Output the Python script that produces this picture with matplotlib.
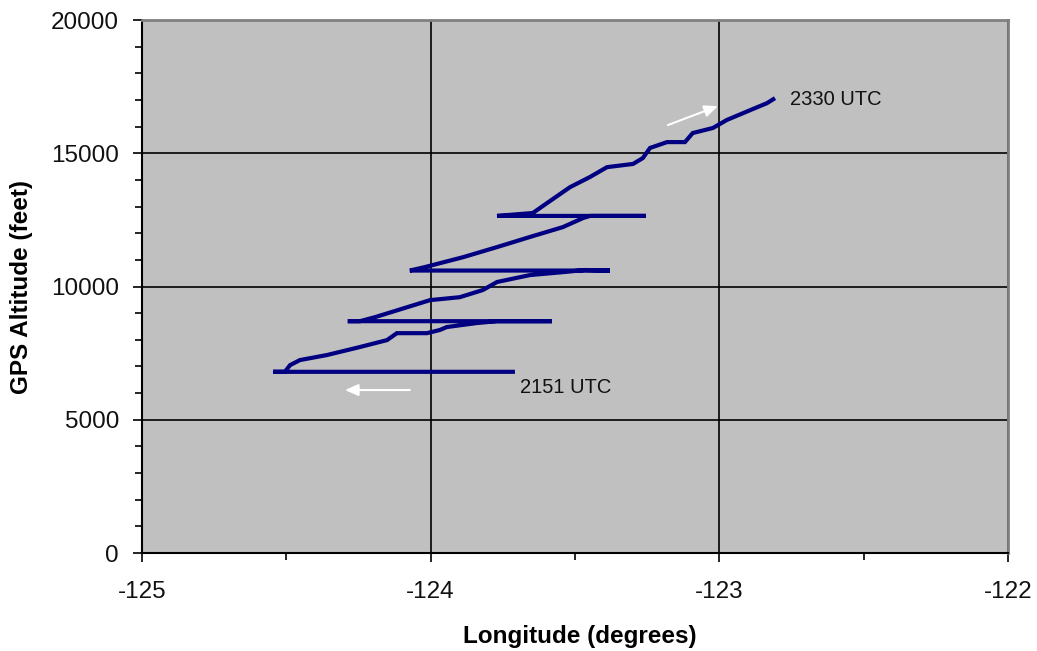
import matplotlib
matplotlib.use("Agg")
import matplotlib.pyplot as plt
from matplotlib.ticker import MultipleLocator

plt.rcParams['font.family'] = ['Liberation Sans', 'DejaVu Sans']

# Flight track: longitude (degrees) and GPS altitude (feet), in time order
longitude = [-123.708, -124.546, -124.505, -124.487, -124.453, -124.359, -124.245,
             -124.151, -124.117, -124.013, -123.968, -123.944, -123.840, -123.770,
             -123.580, -124.287, -124.245, -124.193, -124.002, -123.899, -123.819,
             -123.770, -123.656, -123.542, -123.466, -123.379, -124.072, -124.020,
             -123.888, -123.770, -123.656, -123.542, -123.472, -123.448, -123.254,
             -123.770, -123.646, -123.597, -123.517, -123.448, -123.389, -123.299,
             -123.265, -123.240, -123.181, -123.119, -123.092, -123.022, -122.974,
             -122.884, -122.835, -122.807]
altitude = [6800, 6800, 6800, 7050, 7240, 7430, 7730,
            7990, 8250, 8250, 8370, 8480, 8630, 8700,
            8700, 8700, 8700, 8850, 9490, 9600, 9870,
            10170, 10430, 10540, 10620, 10600, 10600, 10730,
            11100, 11480, 11860, 12230, 12570, 12650, 12650,
            12650, 12760, 13130, 13730, 14110, 14480, 14600,
            14820, 15200, 15420, 15420, 15760, 15950, 16250,
            16660, 16880, 17070]

x_ticks = [-125, -124, -123, -122]
y_ticks = [0, 5000, 10000, 15000, 20000]

start_label = "2151 UTC"
end_label = "2330 UTC"

fig = plt.figure(figsize=(10.37, 6.51), dpi=100)
ax = fig.add_axes([0.1369, 0.1505, 0.8351, 0.8187])
ax.set_facecolor('#c0c0c0')

ax.plot(longitude, altitude, color='#000080', lw=3.0, solid_capstyle='butt',
        solid_joinstyle='miter', zorder=3)

ax.set_xlim(-125, -122)
ax.set_ylim(0, 20000)
ax.set_xticks(x_ticks)
ax.set_yticks(y_ticks)
ax.set_xticklabels([str(v) for v in x_ticks])
ax.set_yticklabels([str(v) for v in y_ticks])
ax.xaxis.set_minor_locator(MultipleLocator(0.5))
ax.yaxis.set_minor_locator(MultipleLocator(1000))
ax.grid(True, which='major', color='black', lw=1.2, zorder=1)
ax.set_axisbelow(True)

ax.tick_params(which='major', direction='out', length=6.5, width=1.2, color='black',
               labelsize=17.5, labelcolor='#111111')
ax.tick_params(axis='x', which='major', pad=14)
ax.tick_params(axis='y', which='major', pad=10)
ax.tick_params(which='minor', direction='out', length=5, width=1.2, color='black')

for s in ['left', 'bottom']:
    ax.spines[s].set_color('black')
    ax.spines[s].set_linewidth(1.5)
for s in ['top', 'right']:
    ax.spines[s].set_color('#808080')
    ax.spines[s].set_linewidth(2)

ax.set_xlabel('Longitude (degrees)', fontsize=17.5, fontweight='bold', va='center')
ax.set_ylabel('GPS Altitude (feet)', fontsize=17.5, fontweight='bold', va='center')
ax.xaxis.set_label_coords(0.5058, -0.1560)
ax.yaxis.set_label_coords(-0.1386, 0.499)

ax.text(-123.69, 6230, start_label, fontsize=14.5, va='center', ha='left', color='#111111')
ax.text(-122.755, 17000, end_label, fontsize=14.5, va='center', ha='left', color='#111111')

arrow = dict(arrowstyle='-|>,head_length=0.8,head_width=0.35', color='white', lw=1.5,
             shrinkA=0, shrinkB=0)
ax.annotate('', xy=(-124.297, 6116), xytext=(-124.072, 6116), arrowprops=arrow, zorder=4)
ax.annotate('', xy=(-123.005, 16770), xytext=(-123.178, 16060), arrowprops=arrow, zorder=4)

fig.savefig('out.png', dpi=100, facecolor='white')
